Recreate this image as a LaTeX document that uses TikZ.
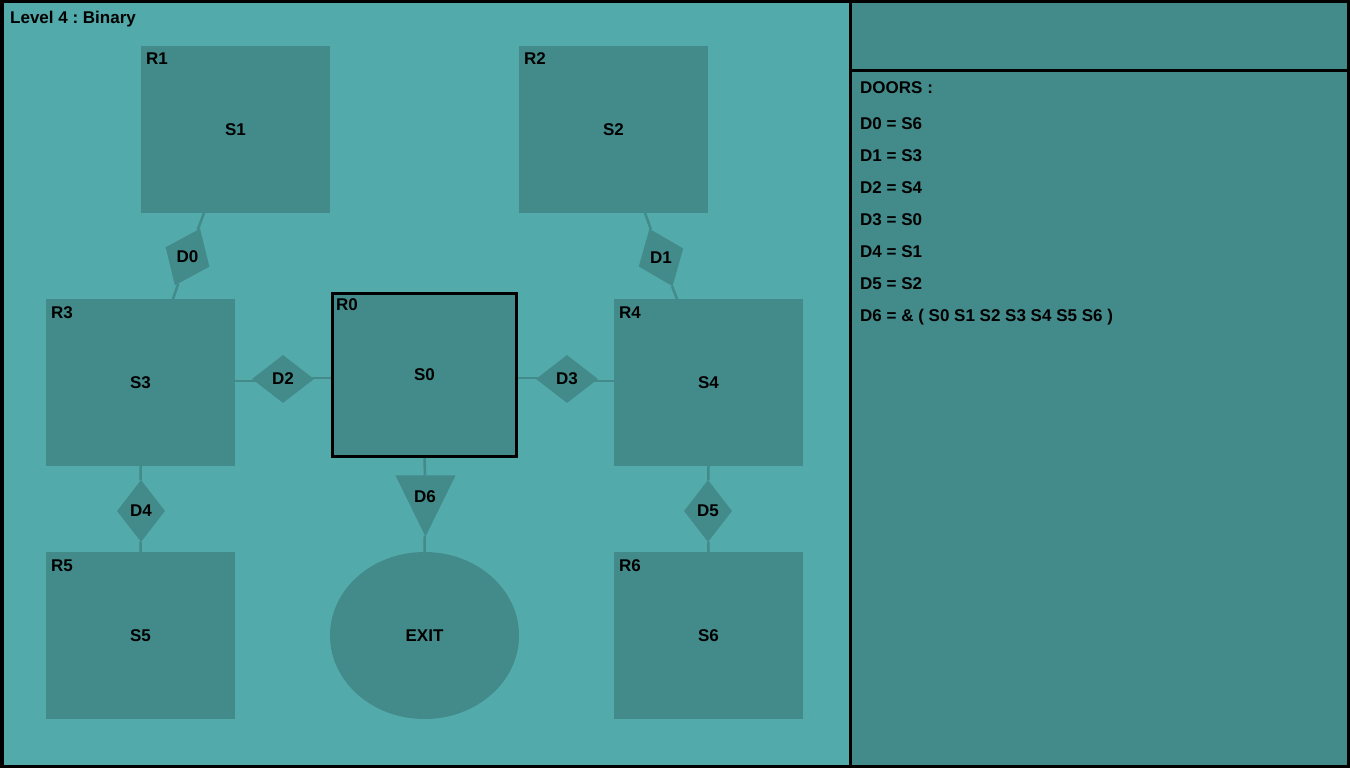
\documentclass[tikz,border=0pt]{standalone}
\usepackage{fontspec}
\setmainfont{Liberation Sans}
\frenchspacing
\usetikzlibrary{shapes.geometric}
\definecolor{floorc}{RGB}{82,170,170}
\definecolor{roomc}{RGB}{67,139,138}
\tikzset{
  lbl/.style={font=\bfseries\fontsize{17}{20}\selectfont, inner sep=0},
  tag/.style={lbl, anchor=base west},
  room/.style={lbl, fill=roomc, minimum width=189, minimum height=167},
  door/.style={diamond, fill=roomc, minimum width=62, minimum height=48, inner sep=0},
  link/.style={roomc, line width=2.5},
}
\begin{document}
\begin{tikzpicture}[x=1pt,y=-1pt]
\useasboundingbox (0,0) rectangle (1350,768);
\fill[floorc] (0,0) rectangle (850,768);
\fill[roomc] (850,0) rectangle (1350,768);
\node[tag] (title) at (10,24) {Level 4 : Binary};
% rooms
\node[room] (r1) at (235.5,129.5) {S1};
\node[room] (r2) at (613.5,129.5) {S2};
\node[room] (r3) at (140.5,382.5) {S3};
\node[room] (r4) at (708.5,382.5) {S4};
\node[room] (r5) at (140.5,635.5) {S5};
\node[room] (r6) at (708.5,635.5) {S6};
\node[room, draw=black, line width=3, minimum width=184, minimum height=163] (r0) at (424.5,375) {S0};
\node[lbl, ellipse, fill=roomc, minimum width=189, minimum height=167] (exit) at (424.5,635.5) {EXIT};
\node[tag] (t1) at (146,65) {R1};
\node[tag] (t2) at (524,65) {R2};
\node[tag] (t3) at (51,318) {R3};
\node[tag] (t0) at (336,310) {R0};
\node[tag] (t4) at (619,318) {R4};
\node[tag] (t5) at (51,571) {R5};
\node[tag] (t6) at (619,571) {R6};
% doors
\node[door, rotate=66] (d0) at (187.5,257) {};
\node[door, rotate=112] (d1) at (661,257.5) {};
\node[door] (d2) at (283,379) {};
\node[door] (d3) at (567,379) {};
\node[door, rotate=90] (d4) at (141,511) {};
\node[door, rotate=90] (d5) at (708,511) {};
\node[isosceles triangle, isosceles triangle stretches, rotate=-90, fill=roomc,
  minimum width=60, minimum height=61, inner sep=0, anchor=apex] (d6) at (425.5,537) {};
\coordinate (r1d0) at (204,213);
\coordinate (r3d0) at (173,299);
\coordinate (r2d1) at (645,213);
\coordinate (r4d1) at (677,299);
\coordinate (r3d2) at (235,381);
\coordinate (r0d2) at (331,378);
\coordinate (r0d3) at (518,378);
\coordinate (r4d3) at (614,381);
\draw[link] (r1d0) -- (d0) -- (r3d0);
\draw[link] (r2d1) -- (d1) -- (r4d1);
\draw[link] (r3d2) -- (d2 |- r3d2);
\draw[link] (d2 |- r0d2) -- (r0d2);
\draw[link] (r0d3) -- (d3 |- r0d3);
\draw[link] (d3 |- r4d3) -- (r4d3);
\draw[link] (r3.south) -- (d4) -- (r5.north);
\draw[link] (r4.south) -- (d5) -- (r6.north);
\draw[link] (r0.south) -- (d6) -- (exit.north);
\node[lbl] (d0t) at (d0) {D0};
\node[lbl] (d1t) at (d1) {D1};
\node[lbl] (d2t) at (d2) {D2};
\node[lbl] (d3t) at (d3) {D3};
\node[lbl] (d4t) at (d4) {D4};
\node[lbl] (d5t) at (d5) {D5};
\node[lbl] (d6t) at (425,497) {D6};
% side panel
\node[tag] (doors) at (860,94) {DOORS :};
\node[tag] (k0) at (860,129) {D0 = S6};
\node[tag] (k1) at (860,161) {D1 = S3};
\node[tag] (k2) at (860,193) {D2 = S4};
\node[tag] (k3) at (860,225) {D3 = S0};
\node[tag] (k4) at (860,257) {D4 = S1};
\node[tag] (k5) at (860,289) {D5 = S2};
\node[tag] (k6) at (860,321) {D6 = \& ( S0 S1 S2 S3 S4 S5 S6 )};
% frame
\draw[line width=3.5] (1.75,1.75) rectangle (1348.25,766.25);
\draw[line width=3] (850.8,0) -- (850.8,768);
\draw[line width=3] (850.8,70.5) -- (1350,70.5);
\end{tikzpicture}
\end{document}
